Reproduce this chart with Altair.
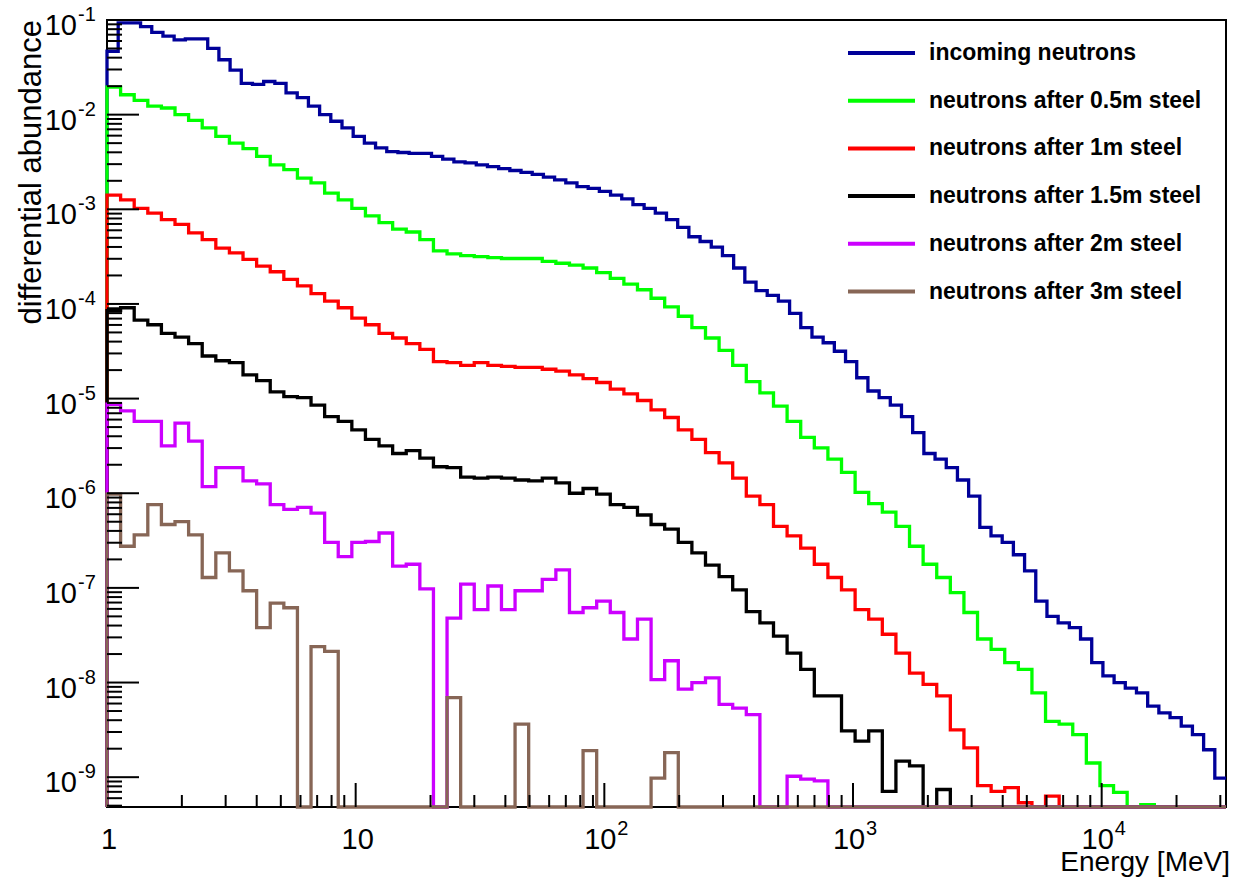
import altair as alt
import numpy as np
import pandas as pd

FONT = "Liberation Sans"

# ---------------- axis ranges ----------------
X_MIN, X_MAX = 1.0, 10 ** 4.5
Y_MIN, Y_MAX = 10 ** -9.315, 1e-1

# ---------------- series ----------------
series_names = [
    "incoming neutrons",
    "neutrons after 0.5m steel",
    "neutrons after 1m steel",
    "neutrons after 1.5m steel",
    "neutrons after 2m steel",
    "neutrons after 3m steel",
]
series_colors = ["#000099", "#00ff00", "#ff0000", "#000000", "#cc00ff", "#876656"]

# log10(differential abundance) per bin; None = empty bin
incoming_log10 = [
    -1.33, -1.03, -1.03, -1.07, -1.13, -1.17, -1.21, -1.20, -1.20, -1.30,
    -1.42, -1.53, -1.67, -1.68, -1.65, -1.67, -1.77, -1.82, -1.91, -2.00,
    -2.07, -2.14, -2.23, -2.30, -2.35, -2.39, -2.40, -2.41, -2.41, -2.44,
    -2.47, -2.50, -2.51, -2.53, -2.55, -2.57, -2.59, -2.61, -2.63, -2.66,
    -2.69, -2.72, -2.76, -2.78, -2.81, -2.85, -2.89, -2.95, -2.99, -3.04,
    -3.11, -3.19, -3.29, -3.34, -3.40, -3.49, -3.62, -3.77, -3.86, -3.91,
    -3.97, -4.10, -4.25, -4.35, -4.41, -4.50, -4.61, -4.78, -4.92, -4.99,
    -5.07, -5.19, -5.36, -5.58, -5.64, -5.73, -5.86, -6.03, -6.36, -6.45,
    -6.52, -6.65, -6.82, -7.14, -7.30, -7.37, -7.42, -7.54, -7.79, -7.93,
    -8.00, -8.06, -8.11, -8.25, -8.32, -8.37, -8.46, -8.55, -8.71, -9.01,
]
steel_05m_log10 = [
    -1.71, -1.79, -1.85, -1.91, -1.93, -2.00, -2.06, -2.14, -2.23, -2.30,
    -2.36, -2.44, -2.53, -2.58, -2.67, -2.72, -2.83, -2.90, -2.99, -3.07,
    -3.14, -3.21, -3.24, -3.32, -3.44, -3.47, -3.49, -3.50, -3.51, -3.52,
    -3.52, -3.52, -3.55, -3.57, -3.59, -3.62, -3.67, -3.73, -3.79, -3.85,
    -3.94, -4.03, -4.13, -4.25, -4.36, -4.49, -4.65, -4.82, -4.94, -5.08,
    -5.24, -5.41, -5.52, -5.64, -5.78, -5.99, -6.11, -6.20, -6.35, -6.56,
    -6.75, -6.89, -7.05, -7.26, -7.54, -7.65, -7.79, -7.86, -8.11, -8.41,
    -8.44, -8.55, -8.85, -9.09, -9.16, None, -9.29, None, None, None,
    None, None, None,
]
steel_1m_log10 = [
    -2.85, -2.90, -2.99, -3.04, -3.11, -3.16, -3.25, -3.32, -3.41, -3.46,
    -3.53, -3.60, -3.66, -3.74, -3.81, -3.89, -3.97, -4.04, -4.15, -4.22,
    -4.31, -4.36, -4.42, -4.48, -4.61, -4.62, -4.65, -4.62, -4.65, -4.66,
    -4.67, -4.67, -4.69, -4.71, -4.75, -4.79, -4.83, -4.90, -4.95, -5.02,
    -5.12, -5.20, -5.33, -5.43, -5.57, -5.68, -5.84, -6.03, -6.12, -6.35,
    -6.45, -6.58, -6.75, -6.89, -7.02, -7.23, -7.33, -7.49, -7.69, -7.90,
    -8.02, -8.14, -8.50, -8.69, -9.09, -9.15, -9.11, -9.27, None, -9.20,
    None, None, None, None, None, None, None, None, None, None,
    None, None, None,
]
steel_15m_log10 = [
    -4.07, -4.04, -4.17, -4.22, -4.31, -4.35, -4.42, -4.55, -4.60, -4.62,
    -4.75, -4.81, -4.93, -4.98, -4.99, -5.07, -5.19, -5.24, -5.33, -5.43,
    -5.50, -5.58, -5.55, -5.63, -5.72, -5.73, -5.83, -5.84, -5.83, -5.84,
    -5.86, -5.87, -5.84, -5.89, -6.00, -5.95, -6.01, -6.12, -6.15, -6.23,
    -6.33, -6.38, -6.52, -6.63, -6.76, -6.88, -7.02, -7.25, -7.37, -7.51,
    -7.69, -7.86, -8.14, -8.14, -8.51, -8.62, -8.51, -9.15, -8.83, -8.88,
    None, -9.13, None, None, None, None, None, None, None, None,
    None, None, None, None, None, None, None, None, None, None,
    None, None, None,
]
steel_2m_log10 = [
    -5.06, -5.13, -5.24, -5.24, -5.50, -5.26, -5.45, -5.93, -5.73, -5.73,
    -5.87, -5.90, -6.12, -6.17, -6.15, -6.21, -6.52, -6.67, -6.52, -6.51,
    -6.42, -6.77, -6.75, -7.01, None, -7.32, -6.96, -7.23, -6.98, -7.23,
    -7.03, -7.03, -6.91, -6.81, -7.26, -7.21, -7.14, -7.26, -7.54, -7.33,
    -7.97, -7.77, -8.07, -8.00, -7.95, -8.23, -8.27, -8.34, None, None,
    -8.99, -9.02, -9.04, None, None, None, None, None, None, None,
    None, None, None, None, None, None, None, None, None, None,
    None, None, None, None, None, None, None, None, None, None,
    None, None, None,
]
steel_3m_log10 = [
    -6.01, -6.56, -6.44, -6.12, -6.33, -6.30, -6.44, -6.89, -6.63, -6.82,
    -7.03, -7.42, -7.16, -7.21, None, -7.62, -7.67, None, None, None,
    None, None, None, None, None, -8.16, None, None, None, None,
    -8.44, None, None, None, None, -8.72, None, None, None, None,
    -9.01, -8.74, None, None, None, None, None, None, None, None,
    None, None, None, None, None, None, None, None, None, None,
    None, None, None, None, None, None, None, None, None, None,
    None, None, None, None, None, None, None, None, None, None,
    None, None, None,
]
series_log10 = [incoming_log10, steel_05m_log10, steel_1m_log10,
                steel_15m_log10, steel_2m_log10, steel_3m_log10]

# logarithmic binning (fine for incoming spectrum, coarser for the others)
fine_edges = 10 ** (np.arange(len(incoming_log10) + 1) * 0.045)
coarse_edges = np.minimum(10 ** (np.arange(len(steel_05m_log10) + 1) * 0.0547), X_MAX)
series_edges = [fine_edges] + [coarse_edges] * 5

rows = []
for name, logs, edges in zip(series_names, series_log10, series_edges):
    vals = [Y_MIN if e is None else max(10 ** e, Y_MIN) for e in logs]
    pts = [(edges[0], Y_MIN)] + [(edges[k], vals[k]) for k in range(len(vals))]
    pts.append((edges[len(vals)], vals[-1]))
    for i, (xv, yv) in enumerate(pts):
        rows.append({"series": name, "i": i, "energy": float(xv), "abundance": float(yv)})
hist_df = pd.DataFrame(rows)

# ---------------- axis tick definitions ----------------
y_major_exps = [-1, -2, -3, -4, -5, -6, -7, -8, -9]
y_major = [10.0 ** e for e in y_major_exps]
y_minor = [m * 10.0 ** n for n in range(-10, -1) for m in range(2, 10)
           if Y_MIN <= m * 10.0 ** n <= Y_MAX]
x_major = [10.0, 100.0, 1000.0, 10000.0]
x_minor = [m * 10.0 ** n for n in range(0, 5) for m in range(2, 10)
           if m * 10.0 ** n <= X_MAX]

W, H = 1119, 787

xscale = alt.Scale(type="log", domain=[X_MIN, X_MAX], nice=False)
yscale = alt.Scale(type="log", domain=[Y_MIN, Y_MAX], nice=False)

legend = alt.Legend(
    title=None, orient="none", legendX=739, legendY=21,
    symbolType="stroke", symbolSize=4489, symbolStrokeWidth=4,
    labelFont=FONT, labelFontSize=23, labelFontWeight="bold", labelColor="black",
    labelLimit=600, clipHeight=24, rowPadding=23.7, labelOffset=12, padding=0,
)
color_enc = alt.Color("series:N", scale=alt.Scale(domain=series_names, range=series_colors),
                      legend=legend)

layers = []
for name in series_names:
    layers.append(
        alt.Chart(hist_df).transform_filter(alt.datum.series == name)
        .mark_line(interpolate="step-after", strokeWidth=3.3, strokeJoin="miter")
        .encode(
            x=alt.X("energy:Q", scale=xscale, axis=None),
            y=alt.Y("abundance:Q", scale=yscale, axis=None),
            color=color_enc,
            order="i:Q",
        )
    )

# ticks (ROOT style, inside the frame)
ymaj_df = pd.DataFrame({"v": y_major, "base": ["10"] * len(y_major),
                        "exp": [str(e) for e in y_major_exps]})
ymin_df = pd.DataFrame({"v": y_minor})
xmaj_df = pd.DataFrame({"v": x_major})
xmin_df = pd.DataFrame({"v": x_minor})

layers.append(alt.Chart(ymaj_df).mark_rule(color="black", strokeWidth=2).encode(
    y=alt.Y("v:Q", scale=yscale, axis=None), x=alt.value(0), x2=alt.value(32)))
layers.append(alt.Chart(ymin_df).mark_rule(color="black", strokeWidth=2).encode(
    y=alt.Y("v:Q", scale=yscale, axis=None), x=alt.value(0), x2=alt.value(15)))
layers.append(alt.Chart(xmaj_df).mark_rule(color="black", strokeWidth=2).encode(
    x=alt.X("v:Q", scale=xscale, axis=None), y=alt.value(H), y2=alt.value(H - 24)))
layers.append(alt.Chart(xmin_df).mark_rule(color="black", strokeWidth=2).encode(
    x=alt.X("v:Q", scale=xscale, axis=None), y=alt.value(H), y2=alt.value(H - 12)))

# y tick labels 10^-n
layers.append(alt.Chart(ymaj_df).mark_text(
    align="right", baseline="alphabetic", font=FONT, fontSize=29, dy=15, color="black"
).encode(y=alt.Y("v:Q", scale=yscale, axis=None), x=alt.value(-30), text="base:N"))
layers.append(alt.Chart(ymaj_df).mark_text(
    align="left", baseline="alphabetic", font=FONT, fontSize=20, dy=1, color="black"
).encode(y=alt.Y("v:Q", scale=yscale, axis=None), x=alt.value(-29), text="exp:N"))

# x tick labels
x_plain_df = pd.DataFrame({"v": [1.0, 10.0], "t": ["1", "10"]})
x_pow_df = pd.DataFrame({"v": [100.0, 1000.0, 10000.0], "base": ["10", "10", "10"],
                         "exp": ["2", "3", "4"]})
layers.append(alt.Chart(x_plain_df).mark_text(
    align="center", baseline="alphabetic", font=FONT, fontSize=29, color="black", dx=2
).encode(x=alt.X("v:Q", scale=xscale, axis=None), y=alt.value(H + 42), text="t:N"))
layers.append(alt.Chart(x_pow_df).mark_text(
    align="center", baseline="alphabetic", font=FONT, fontSize=29, color="black", dx=-4
).encode(x=alt.X("v:Q", scale=xscale, axis=None), y=alt.value(H + 42), text="base:N"))
layers.append(alt.Chart(x_pow_df).mark_text(
    align="left", baseline="alphabetic", font=FONT, fontSize=20, color="black", dx=13
).encode(x=alt.X("v:Q", scale=xscale, axis=None), y=alt.value(H + 28), text="exp:N"))

# axis titles
layers.append(alt.Chart(pd.DataFrame({"t": ["Energy [MeV]"]})).mark_text(
    align="right", baseline="alphabetic", font=FONT, fontSize=28, color="black"
).encode(x=alt.value(W + 4), y=alt.value(H + 64), text="t:N"))
layers.append(alt.Chart(pd.DataFrame({"t": ["differential abundance"]})).mark_text(
    align="right", baseline="alphabetic", font=FONT, fontSize=31, color="black", angle=270
).encode(x=alt.value(-66), y=alt.value(0), text="t:N"))

chart = alt.layer(*layers).properties(
    width=W, height=H,
    autosize=alt.AutoSizeParams(type="none"),
    padding={"left": 107, "top": 20, "right": 13, "bottom": 71},
    background="white",
).configure_view(stroke="black", strokeWidth=2)

chart.save("out.html", embed_options={"renderer": "svg", "actions": False})
